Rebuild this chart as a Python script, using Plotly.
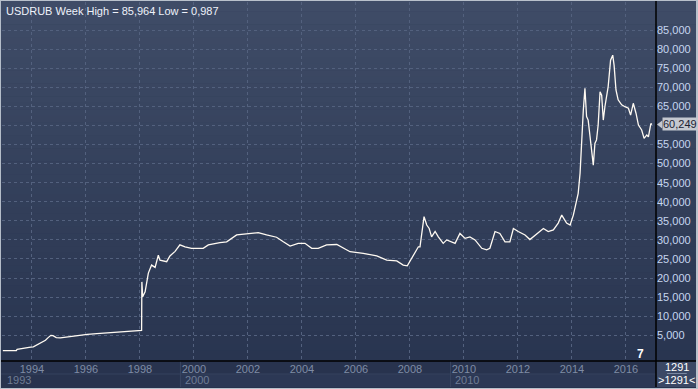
import plotly.graph_objects as go
from datetime import datetime

# ---------------- data (decimal year, USDRUB weekly close) ----------------
year_frac = [
    1993.42, 1993.70, 1993.92, 1993.95, 1994.20, 1994.45, 1994.55, 1994.70, 1994.85,
    1995.00, 1995.10, 1995.20, 1995.28, 1995.40, 1995.55, 1995.80, 1996.02, 1996.30,
    1996.55, 1996.90, 1997.30, 1997.60, 1997.90, 1998.20, 1998.50, 1998.56, 1998.57,
    1998.60, 1998.69, 1998.81, 1998.93, 1999.06, 1999.18, 1999.24, 1999.49, 1999.61,
    1999.80, 1999.98, 2000.17, 2000.41, 2000.84, 2001.03, 2001.46, 2001.71, 2002.08,
    2002.57, 2002.88, 2003.19, 2003.56, 2003.81, 2004.06, 2004.36, 2004.61, 2004.86,
    2005.10, 2005.41, 2005.79, 2006.28, 2006.77, 2007.27, 2007.64, 2008.01, 2008.25,
    2008.40, 2008.56, 2008.62, 2008.81, 2008.87, 2008.93, 2008.99, 2009.02, 2009.12,
    2009.21, 2009.30, 2009.43, 2009.55, 2009.73, 2009.86, 2010.04, 2010.17, 2010.35,
    2010.54, 2010.72, 2010.91, 2011.16, 2011.34, 2011.46, 2011.65, 2011.83, 2012.02,
    2012.20, 2012.33, 2012.51, 2012.64, 2012.76, 2012.94, 2013.13, 2013.44, 2013.62,
    2013.81, 2013.99, 2014.12, 2014.30, 2014.43, 2014.55, 2014.67, 2014.73, 2014.80,
    2014.86, 2014.92, 2014.98, 2015.04, 2015.10, 2015.17, 2015.23, 2015.29, 2015.35,
    2015.41, 2015.47, 2015.54, 2015.60, 2015.66, 2015.72, 2015.84, 2015.93, 2016.01,
    2016.06, 2016.13, 2016.21, 2016.34, 2016.46, 2016.59, 2016.67, 2016.77, 2016.87,
    2016.96, 2017.08, 2017.17, 2017.27, 2017.33, 2017.42, 2017.46,
]
usdrub = [
    0.99, 1.00, 1.02, 1.30, 1.50, 1.90, 2.00, 2.60, 3.10,
    3.70, 4.40, 5.00, 4.90, 4.40, 4.35, 4.60, 4.70, 4.95,
    5.27, 5.45, 5.65, 5.75, 5.95, 6.05, 6.15, 6.30, 19.00,
    15.10, 16.40, 21.30, 23.40, 22.80, 26.00, 24.70, 24.30, 25.80,
    27.00, 28.70, 28.20, 27.80, 27.80, 28.70, 29.30, 29.50, 31.30,
    31.70, 31.90, 31.30, 30.70, 29.50, 28.40, 29.10, 29.10, 27.80,
    27.80, 28.70, 28.80, 26.90, 26.50, 25.80, 24.70, 24.50, 23.40,
    23.20, 25.20, 25.60, 28.20, 28.20, 31.70, 34.50, 36.10, 33.90,
    33.00, 30.80, 32.20, 30.80, 29.10, 30.00, 29.50, 29.10, 31.70,
    30.40, 30.80, 30.00, 27.80, 27.40, 27.80, 32.20, 31.70, 29.50,
    29.50, 33.00, 32.20, 31.70, 31.30, 30.10, 31.30, 33.00, 32.20,
    32.60, 34.40, 36.50, 34.40, 33.90, 36.50, 40.50, 42.20, 47.50,
    57.00, 64.00, 69.70, 62.30, 61.40, 57.00, 53.60, 49.60, 55.30,
    56.20, 60.10, 68.80, 67.90, 61.40, 64.90, 70.10, 77.10, 78.40,
    75.80, 69.30, 66.70, 65.40, 64.90, 64.50, 62.70, 65.80, 63.20,
    60.10, 58.80, 56.60, 57.50, 57.00, 60.50, 60.249,
]

tick_years = [1994, 1996, 1998, 2000, 2002, 2004, 2006, 2008, 2010, 2012, 2014, 2016]
decade_labels = ["1993", "2000", "2010"]
decade_starts = [1993.39, 2000.0, 2010.0]
y_tick_vals = [5, 10, 15, 20, 25, 30, 35, 40, 45, 50, 55, 60, 65, 70, 75, 80, 85]
# the 60,000 label sits under the last-value box in the original, so it stays blank
y_tick_text = ["" if v == 60 else f"{v},000" for v in y_tick_vals]
title_text = "USDRUB Week High = 85,964 Low = 0,987"
last_label = "60,249"
last_value = 60.249
bar_count = "1291"
x_start, x_end = 1993.389, 2017.611
y_min, y_max = -1.73, 92.34


def to_date(y):
    yr = int(y)
    a, b = datetime(yr, 1, 1), datetime(yr + 1, 1, 1)
    return a + (b - a) * (y - yr)


dates = [to_date(v) for v in year_frac]
FONT = "Liberation Sans, Arial, sans-serif"

fig = go.Figure()
fig.add_trace(go.Scatter(x=dates, y=usdrub, mode="lines",
                         line=dict(color="#fffaf2", width=1.3),
                         hoverinfo="skip", showlegend=False))

shapes = []
# background gradient (paper coords)
N = 60
top = (63, 76, 103)
bot = (39, 51, 78)
y_lo, y_hi = -0.08, 1.01
for i in range(N):
    t = i / (N - 1)
    c = tuple(int(round(top[k] + (bot[k] - top[k]) * t)) for k in range(3))
    y1 = y_hi - (y_hi - y_lo) * i / N
    y0 = y_hi - (y_hi - y_lo) * (i + 1) / N
    shapes.append(dict(type="rect", xref="paper", yref="paper", x0=-0.01, x1=1.07,
                       y0=y0 - 0.001, y1=y1, fillcolor="rgb(%d,%d,%d)" % c,
                       line=dict(width=0), layer="below"))

# bottom time bands
shapes.append(dict(type="rect", xref="paper", yref="paper", x0=-0.01, x1=1.0,
                   y0=-0.0724, y1=0, fillcolor="#28334e", line=dict(width=0), layer="below"))
shapes.append(dict(type="rect", xref="x", yref="paper", x0=to_date(2000.0), x1=to_date(x_end),
                   y0=-0.0724, y1=-0.0362, fillcolor="#2c3855", line=dict(width=0), layer="below"))
shapes.append(dict(type="line", xref="paper", yref="paper", x0=-0.01, x1=1.0,
                   y0=-0.0362, y1=-0.0362, line=dict(color="#36425e", width=1)))
for ds in decade_starts[1:]:
    shapes.append(dict(type="line", xref="x", yref="paper", x0=to_date(ds), x1=to_date(ds),
                       y0=-0.0724, y1=0, line=dict(color="#3a4662", width=1)))
# right-bottom box
shapes.append(dict(type="rect", xref="paper", yref="paper", x0=1.0, x1=1.065,
                   y0=-0.0724, y1=0, fillcolor="#3b4865", line=dict(width=0)))
shapes.append(dict(type="line", xref="paper", yref="paper", x0=1.017, x1=1.047,
                   y0=-0.0348, y1=-0.0348, line=dict(color="#7d8aa3", width=1)))
# black axis lines
shapes.append(dict(type="line", xref="paper", yref="paper", x0=-0.01, x1=1.065,
                   y0=0, y1=0, line=dict(color="#000000", width=1.5)))
shapes.append(dict(type="line", xref="paper", yref="paper", x0=1.0, x1=1.0,
                   y0=-0.0724, y1=1.01, line=dict(color="#000000", width=1.5)))
# last-value pointer
shapes.append(dict(type="path", xref="paper", yref="y",
                   path=f"M 1.0015,{last_value} L 1.0095,{last_value + 1.05} L 1.0095,{last_value - 1.05} Z",
                   fillcolor="#c4c8d0", line=dict(width=0)))
# outer frame
shapes.append(dict(type="rect", xref="paper", yref="paper", x0=-0.0031, x1=1.0627,
                   y0=-0.0780, y1=1.0056, line=dict(color="#b9c1cc", width=2)))

annotations = [
    dict(text=title_text, xref="paper", yref="paper", x=0, y=1, xanchor="left", yanchor="top",
         xshift=2, yshift=-1, showarrow=False, font=dict(family=FONT, size=11, color="#eef2fa")),
    dict(text=last_label, xref="paper", yref="y", x=1.0095, y=last_value, xanchor="left",
         yanchor="middle", showarrow=False, bgcolor="#c4c8d0", borderpad=0, width=35,
         align="left", font=dict(family=FONT, size=11, color="#1c2333")),
    dict(text=bar_count, xref="paper", yref="paper", x=1.032, y=-0.0159, showarrow=False,
         xanchor="center", yanchor="middle", font=dict(family=FONT, size=11, color="#ffffff")),
    dict(text="&gt;" + bar_count + "&lt;", xref="paper", yref="paper", x=1.032, y=-0.0543,
         showarrow=False, xanchor="center", yanchor="middle",
         font=dict(family=FONT, size=11, color="#ffffff")),
    dict(text="<b>7</b>", xref="paper", yref="paper", x=0.977, y=0.0195, showarrow=False,
         xanchor="center", yanchor="middle", font=dict(family=FONT, size=12, color="#ffffff")),
]
for lbl, ds in zip(decade_labels, decade_starts):
    annotations.append(dict(text=lbl, xref="x", yref="paper", x=to_date(ds), y=-0.0543,
                            xanchor="left", yanchor="middle", xshift=3, showarrow=False,
                            font=dict(family=FONT, size=11, color="#6f7c95")))

fig.update_layout(
    width=698, height=389,
    margin=dict(l=2, r=42, t=2, b=28),
    paper_bgcolor="#2e3a55",
    plot_bgcolor="rgba(0,0,0,0)",
    showlegend=False,
    shapes=shapes,
    annotations=annotations,
    xaxis=dict(
        type="date", range=[to_date(x_start), to_date(x_end)],
        tickmode="array", tickvals=[to_date(y + 0.5) for y in tick_years],
        ticktext=[str(y) for y in tick_years], ticks="", showline=False, zeroline=False,
        showgrid=True, gridcolor="#53617e", griddash="3px,3px", gridwidth=1,
        tickfont=dict(family=FONT, size=11, color="#7f8ca5"),
    ),
    yaxis=dict(
        side="right", range=[y_min, y_max], tickmode="array", tickvals=y_tick_vals,
        ticktext=y_tick_text, ticks="", showline=False, zeroline=False,
        showgrid=True, gridcolor="#53617e", griddash="3px,3px", gridwidth=1,
        tickfont=dict(family=FONT, size=11, color="#c6d6f0"),
    ),
)

fig.write_html(
    "out.html",
    config={"displayModeBar": False},
    post_script="document.body.style.margin='0';document.body.style.padding='0';"
                "document.body.style.overflow='hidden';",
)
